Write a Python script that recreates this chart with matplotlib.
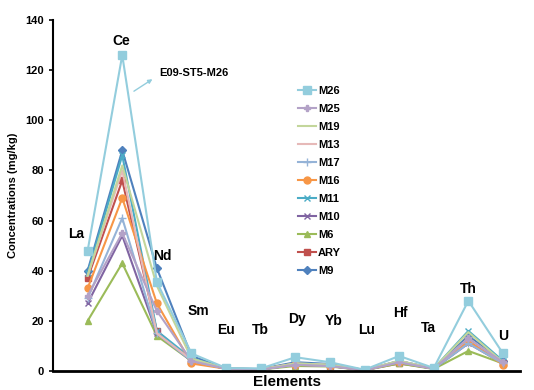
import matplotlib
matplotlib.use("Agg")
import matplotlib.pyplot as plt

plt.rcParams["font.family"] = ["Liberation Sans", "DejaVu Sans"]

elements = ["La", "Ce", "Nd", "Sm", "Eu", "Tb", "Dy", "Yb", "Lu", "Hf", "Ta", "Th", "U"]

M26 = [48, 126, 35.5, 7, 1.2, 1.0, 5.5, 3.5, 0.5, 6.0, 1.2, 28, 7]
M25 = [30, 55, 24, 4, 0.9, 0.6, 2.5, 2.0, 0.3, 3.5, 0.9, 13, 3.5]
M19 = [38, 82, 34, 5, 1.0, 0.7, 3.0, 2.5, 0.4, 4.0, 1.0, 15.5, 3.5]
M13 = [38, 80, 15, 4.5, 1.0, 0.7, 3.0, 2.5, 0.4, 4.0, 1.0, 13, 3.5]
M17 = [29, 61, 15, 4, 0.9, 0.6, 2.5, 2.0, 0.3, 3.5, 0.9, 11, 3]
M16 = [33, 69, 27, 3, 0.9, 0.7, 2.5, 2.0, 0.3, 3.5, 1.0, 12, 2.5]
M11 = [39, 86, 16, 5, 1.0, 0.7, 3.0, 2.5, 0.4, 4.0, 1.0, 16, 4]
M10 = [27, 54, 15, 4, 0.9, 0.6, 2.5, 2.0, 0.3, 3.5, 0.9, 11, 3]
M6 = [20, 43, 14, 4, 0.8, 0.6, 2.0, 1.8, 0.3, 3.0, 0.8, 8, 3]
ARY = [37, 76, 16, 4, 0.9, 0.7, 3.0, 2.0, 0.4, 3.0, 1.0, 12, 3]
M9 = [40, 88, 41, 6, 1.0, 0.8, 3.5, 2.8, 0.4, 4.0, 1.0, 14, 4]

series_names = ["M26", "M25", "M19", "M13", "M17", "M16", "M11", "M10", "M6", "ARY", "M9"]
series_values = [M26, M25, M19, M13, M17, M16, M11, M10, M6, ARY, M9]
colors = ["#93CDDD", "#B3A2C7", "#C3D69B", "#E6B9B8", "#95B3D7", "#F79646",
          "#4BACC6", "#8064A2", "#9BBB59", "#C0504D", "#4F81BD"]
markers = ["s", "P", None, None, "+", "o", "x", "x", "^", "s", "D"]
msizes = [6, 4, 0, 0, 6, 5, 5, 5, 5, 5, 4]

fig = plt.figure(figsize=(5.34, 3.9), dpi=100)
ax = fig.add_axes([0.0993, 0.0487, 0.875, 0.90])

x = list(range(len(elements)))
for name, vals, c, m, ms in reversed(list(zip(series_names, series_values, colors, markers, msizes))):
    ax.plot(x, vals, color=c, lw=1.5, marker=m, markersize=ms,
            markeredgecolor=c, markerfacecolor=c, label=name)

ax.set_xlim(-1, 12.5)
ax.set_ylim(0, 140)
ax.set_yticks(range(0, 141, 20))
ax.set_xticks([])
ax.spines["top"].set_visible(False)
ax.spines["right"].set_visible(False)
ax.spines["left"].set_linewidth(1.5)
ax.spines["bottom"].set_linewidth(2.0)
ax.tick_params(axis="y", labelsize=8, length=3, width=1.2)
for t in ax.get_yticklabels():
    t.set_fontweight("bold")
ax.set_ylabel("Concentrations (mg/kg)", fontsize=8, fontweight="bold", labelpad=5)
ax.set_xlabel("Elements", fontsize=11, fontweight="bold", labelpad=3)

label_x = [-0.33, 0.97, 2.15, 3.2, 4.0, 5.0, 6.05, 7.1, 8.05, 9.05, 9.85, 11.0, 12.0]
label_y = [52, 129, 43, 21, 13.5, 13.5, 18, 17, 13.5, 20.5, 14.3, 30, 11]
for name, lx, ly in zip(elements, label_x, label_y):
    ax.text(lx, ly, name, ha="center", va="bottom", fontsize=10, fontweight="bold")

ax.text(2.08, 118.9, "E09-ST5-M26", fontsize=8, fontweight="bold", ha="left", va="center")
ax.annotate("", xy=(1.94, 117), xytext=(1.27, 111),
            arrowprops=dict(arrowstyle="-|>", color="#93CDDD", lw=1, mutation_scale=6))

handles, labels = ax.get_legend_handles_labels()
handles = handles[::-1]
labels = labels[::-1]
leg = ax.legend(handles, labels, loc="upper left", bbox_to_anchor=(0.515, 0.825),
                frameon=False, fontsize=8, handlelength=1.6, handletextpad=0.2,
                labelspacing=0.72, borderaxespad=0)
for t in leg.get_texts():
    t.set_fontweight("bold")

fig.savefig("out.png", dpi=100)
